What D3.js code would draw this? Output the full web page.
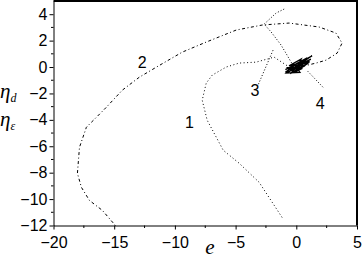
<!DOCTYPE html>
<html>
<head>
<meta charset="utf-8">
<script src="https://cdn.jsdelivr.net/npm/d3@7"></script>
<style>
  body { margin: 0; background: #fff; }
  svg { display: block; }
</style>
</head>
<body>
<div id="chart"></div>
<script>
// axis ticks
var xTicks = [-20, -15, -10, -5, 0, 5];
var yTicks = [-12, -10, -8, -6, -4, -2, 0, 2, 4];

// curve 1 (e, eta)
var curve1 = [[-1.17,-11.39],[-3.06,-8.73],[-4.70,-7.29],[-6.02,-6.30],[-7.34,-4.03],[-7.75,-2.51],
  [-7.42,-1.22],[-6.92,-0.61],[-5.77,0.0],[-4.70,0.30],[-3.31,0.37],[-1.83,0.75],[-0.59,0.0]];

// curve 2
var curve2 = [[-14.90,-12.0],[-15.97,-10.86],[-17.04,-10.10],[-17.70,-9.11],[-18.03,-8.05],[-17.86,-6.08],
  [-17.29,-4.56],[-16.46,-3.80],[-15.64,-3.04],[-14.33,-1.75],[-12.93,-0.77],[-11.53,-0.01],[-9.39,1.13],
  [-7.42,1.89],[-4.95,2.80],[-2.81,3.18],[-0.59,3.33],[1.88,3.03],[3.27,2.57],[3.77,1.81],[3.36,1.05],
  [2.45,0.52],[1.63,0.30],[0.23,-0.01]];

// curve 3
var curve3 = [[-1.0,4.39],[-1.66,4.09],[-2.65,3.25],[-2.07,2.65],[-1.25,1.66],[-0.76,0.9],[-0.43,0.37],[-0.2,0.1]];

// curve 4 (the dense cluster)
var curve4 = [[-0.9,-0.2],[0.6,0.5],[-0.5,-0.5],[1.0,0.3],[-0.2,0.2],[0.3,-0.4],[-0.8,-0.45],[1.3,0.85],
  [-0.4,0.0],[0.2,-0.3],[0.9,0.7],[-0.7,-0.1],[0.5,-0.1],[-0.3,-0.45],[1.1,0.4],[-0.6,0.1],[0.4,0.6],
  [-0.1,-0.35],[0.7,0.1],[-0.9,-0.4],[0.1,0.3],[-0.2,-0.2],[0.8,0.5],[-0.5,-0.3],[0.3,0.0],[-0.8,-0.05],
  [0.0,-0.4],[0.6,0.3],[-0.4,-0.25],[1.2,0.6],[-0.3,-0.1],[0.4,0.2],[-0.6,-0.35]];

// curve labels and leader lines
var labels = [{t:"1", x:-8.8, y:-4.65}, {t:"2", x:-12.7, y:-0.1}, {t:"3", x:-3.4, y:-2.2}, {t:"4", x:1.96, y:-3.2}];
var leaders = [[[-3.12,-1.3],[-1.88,1.35]], [[2.2,-1.53],[0.86,-0.24]]];

var w = 362, h = 260;
var x = d3.scaleLinear().domain([-20, 5]).range([53.5, 357]);
var y = d3.scaleLinear().domain([-12, 5]).range([225.5, 1]);

var svg = d3.select("#chart").append("svg")
  .attr("width", w)
  .attr("height", h);

var line = d3.line()
  .x(function(d){ return x(d[0]); })
  .y(function(d){ return y(d[1]); });

// frame: thick top and right
svg.append("line").attr("x1", x(-20)).attr("x2", x(5)+1).attr("y1", y(5)).attr("y2", y(5))
  .style("stroke", "#000").style("stroke-width", 2);
svg.append("line").attr("x1", x(5)).attr("x2", x(5)).attr("y1", y(5)).attr("y2", y(-12))
  .style("stroke", "#000").style("stroke-width", 2);

// x axis
var xAxis = d3.axisBottom(x).tickValues(xTicks).tickSize(4).tickSizeOuter(0);
var gx = svg.append("g").attr("transform", "translate(0," + y(-12) + ")").call(xAxis);
gx.selectAll("text").attr("dy", "0.95em").style("font-size", "16px").style("font-family", "Liberation Sans, Arial, sans-serif");
gx.append("g").selectAll("line").data(d3.range(-17.5, 5, 5)).join("line")
  .attr("x1", d => x(d)).attr("x2", d => x(d)).attr("y1", 0).attr("y2", 2.5)
  .style("stroke", "#000");

// y axis
var yAxis = d3.axisLeft(y).tickValues(yTicks).tickSize(4).tickSizeOuter(0);
var gy = svg.append("g").attr("transform", "translate(" + x(-20) + ",0)").call(yAxis);
gy.selectAll("text").attr("x", -6).style("font-size", "16px").style("font-family", "Liberation Sans, Arial, sans-serif");
gy.append("g").selectAll("line").data(d3.range(-11, 5, 2)).join("line")
  .attr("x1", 0).attr("x2", -2.5).attr("y1", d => y(d)).attr("y2", d => y(d))
  .style("stroke", "#000");
svg.selectAll(".domain").style("stroke", "#000");

// curves
svg.append("path").datum(curve1).attr("d", line)
  .style("fill", "none").style("stroke", "#000").style("stroke-width", 1).style("stroke-dasharray", "1,2.5");
svg.append("path").datum(curve2).attr("d", line)
  .style("fill", "none").style("stroke", "#000").style("stroke-width", 1).style("stroke-dasharray", "1,2.5,3,2.5");
svg.append("path").datum(curve3).attr("d", line)
  .style("fill", "none").style("stroke", "#000").style("stroke-width", 1).style("stroke-dasharray", "1,2");
svg.append("path").datum(curve4).attr("d", line)
  .style("fill", "none").style("stroke", "#000").style("stroke-width", 1.3);

// leaders
svg.selectAll(".leader").data(leaders).join("path").attr("class", "leader")
  .attr("d", line)
  .style("fill", "none").style("stroke", "#000").style("stroke-width", 1).style("stroke-dasharray", "1,2");

// curve labels
svg.selectAll(".lab").data(labels).join("text").attr("class", "lab")
  .attr("x", d => x(d.x)).attr("y", d => y(d.y))
  .attr("text-anchor", "middle")
  .style("font-size", "16px").style("font-family", "Liberation Sans, Arial, sans-serif")
  .text(d => d.t);

// axis titles
svg.append("text").attr("x", 210).attr("y", 254).attr("text-anchor", "middle")
  .style("font-size", "21px").style("font-style", "italic").style("font-family", "Liberation Serif, serif")
  .text("e");
var t1 = svg.append("text").attr("x", 0).attr("y", 98)
  .style("font-size", "21px").style("font-style", "italic").style("font-family", "Liberation Serif, serif");
t1.append("tspan").text("η");
t1.append("tspan").attr("dy", 4).style("font-size", "12px").text("d");
var t2 = svg.append("text").attr("x", 0).attr("y", 126)
  .style("font-size", "21px").style("font-style", "italic").style("font-family", "Liberation Serif, serif");
t2.append("tspan").text("η");
t2.append("tspan").attr("dy", 4).style("font-size", "12px").text("ε");
</script>
</body>
</html>
